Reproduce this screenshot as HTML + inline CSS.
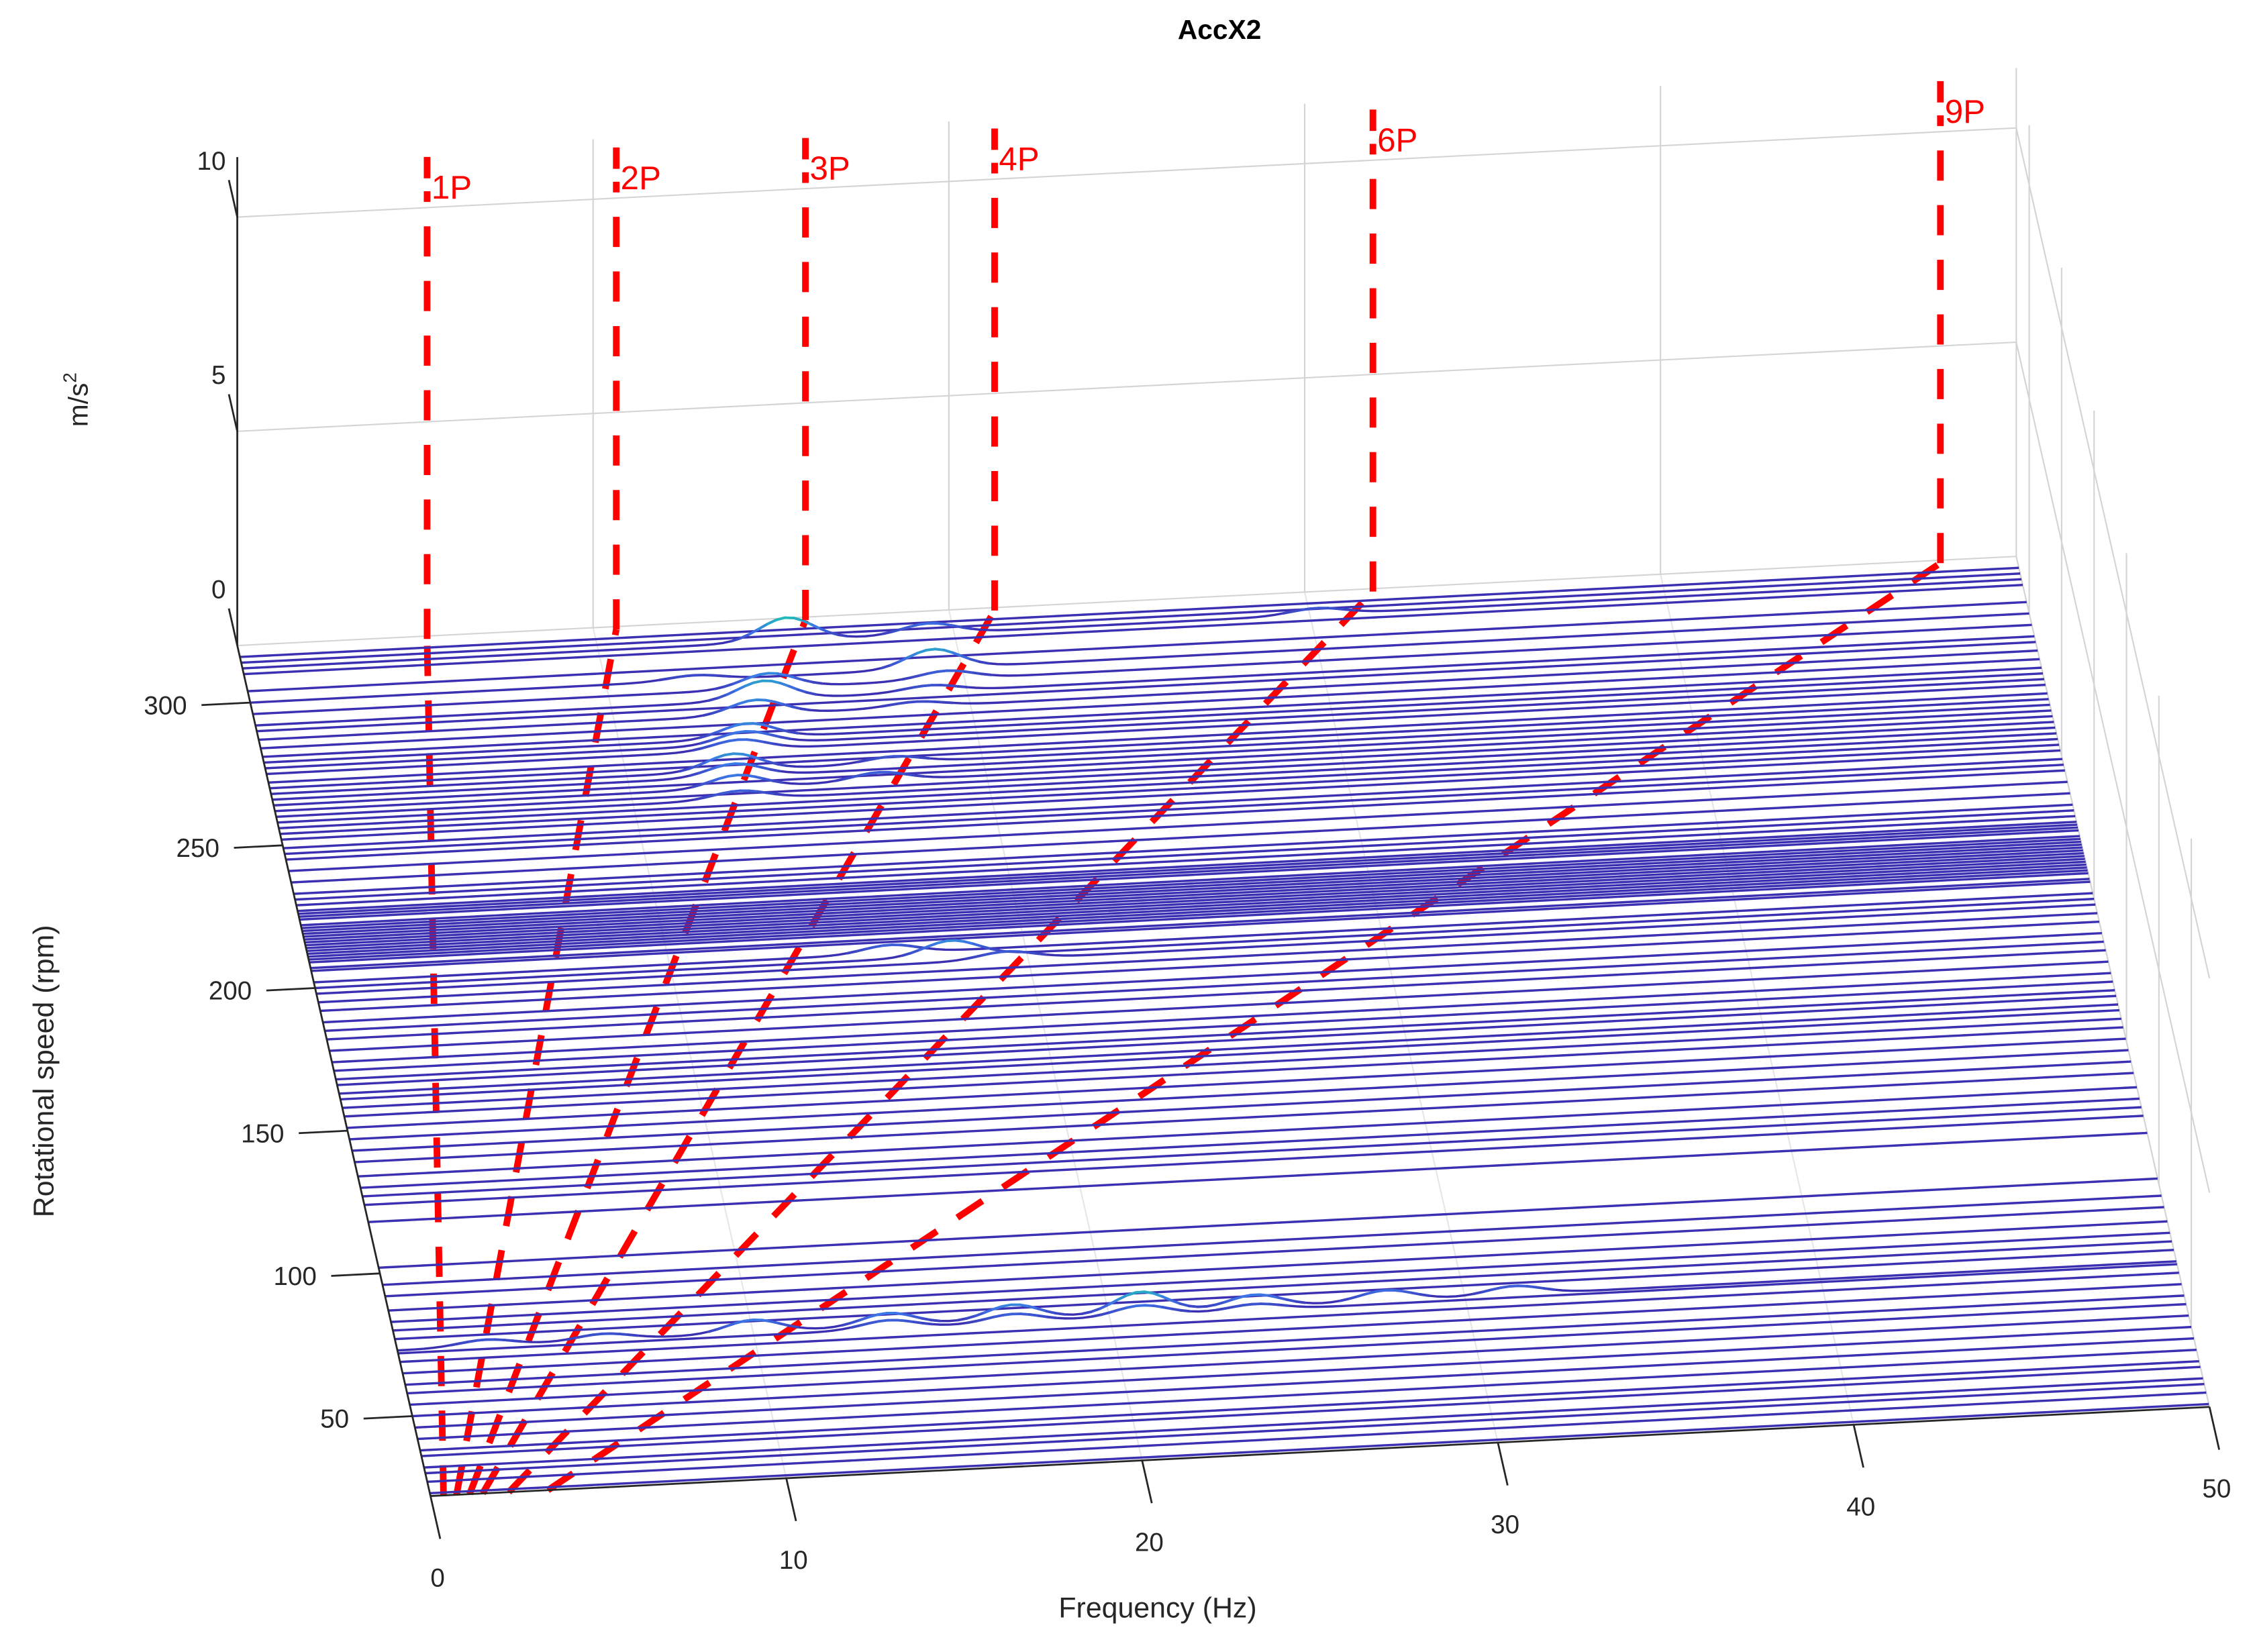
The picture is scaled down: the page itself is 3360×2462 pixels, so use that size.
<!DOCTYPE html>
<html><head><meta charset="utf-8"><title>AccX2</title>
<style>
html,body{margin:0;padding:0;background:#fff;}
svg{display:block;font-family:"Liberation Sans",Arial,sans-serif;}
</style></head>
<body>
<svg id="chart" xmlns="http://www.w3.org/2000/svg" width="3360" height="2462" viewBox="0 0 1568 1149" preserveAspectRatio="none">
<rect x="0" y="0" width="1568" height="1149" fill="#fff"/>
<g id="grid"></g>
<g id="redFloor"></g>
<g id="rows"></g>
<g id="redVert"></g>
<g id="axes"></g>
<text x="848" y="27" text-anchor="middle" font-size="19" font-weight="bold" fill="#000">AccX2</text>
<text x="805" y="1125" text-anchor="middle" font-size="20" fill="#262626">Frequency (Hz)</text>
<text transform="translate(37,745) rotate(-90)" text-anchor="middle" font-size="20" fill="#262626">Rotational speed (rpm)</text>
<text transform="translate(61,278) rotate(-90)" text-anchor="middle" font-size="19" fill="#262626">m/s<tspan dy="-8" font-size="13">2</tspan></text>
</svg>
<script>
const rowRpm = [316,314,312,310,304,300,296,292,290,287,284,281,279,277,275,272,270,268,266,264,262,260,258,256,254,252,249,247,245,241,237,233,231,229,227,226,225,224,222,221,220,219,218,217,216,215,214,213,212,211,210,209,207,206,202,200,198,195,192,188,185,182,178,174,171,168,166,163,161,158,155,151,147,143,139,134,130,127,124,118,102,96,92,87,83,80,77,73,72,69,65,61,58,54,50,46,42,38,36,32,30,27,23];
const peakRpm  = [312,312,312,300,300,296,296,292,292,287,287,279,277,275,268,268,266,262,262,258,202,200,198,200,73,73,73,73,73,73,73,73,73,72,72,72,72];
const peakFreq = [15.3,19.3,30.2,12.5,19.2,14.5,19.5,14.3,19.0,14.0,18.5,13.6,13.5,13.3,13.0,17.5,13.0,13.0,17.0,13.0,16.2,17.8,19.4,18.0,2.5,5.8,10.0,13.8,17.3,20.9,24.1,27.8,31.4,13.8,17.3,20.9,24.1];
const peakAmp  = [0.55,0.25,0.15,0.12,0.45,0.35,0.2,0.45,0.15,0.35,0.12,0.35,0.3,0.25,0.4,0.15,0.3,0.3,0.2,0.2,0.2,0.22,0.18,0.15,0.15,0.15,0.3,0.3,0.35,0.5,0.3,0.25,0.2,0.2,0.2,0.25,0.15];
const orders = [1,2,3,4,6,9];
const freqTicks = [0,10,20,30,40,50];
const rpmTicks = [50,100,150,200,250,300];
const zTicks = [0,5,10];
const R0 = 22, RB = 320, FMAX = 50, ZMAX = 11.4, ZRED = 11.25;

function P(f,r,z){return [165 + f*24.74 + (RB-r)*0.4508, 449 - f*1.24 + (RB-r)*1.985 - z*29.8];}
const NS="http://www.w3.org/2000/svg";
function mk(tag,attrs,parent){const e=document.createElementNS(NS,tag);for(const k in attrs)e.setAttribute(k,attrs[k]);parent.appendChild(e);return e;}
function pts(a){return a.map(p=>p[0].toFixed(2)+","+p[1].toFixed(2)).join(" ");}
const grid=document.getElementById('grid'),rows=document.getElementById('rows'),axes=document.getElementById('axes');
const redFloor=document.getElementById('redFloor'),redVert=document.getElementById('redVert');
const GC="#d4d4d4";

freqTicks.forEach(f=>{ if(f===0)return;
  const a=P(f,RB,0),b=P(f,RB,ZMAX);
  const l=mk('line',{x1:a[0],y1:a[1],x2:b[0],y2:b[1],stroke:GC,'stroke-width':1},grid);
  
  
  const c=P(f,R0,0);
  const l2=mk('line',{x1:a[0],y1:a[1],x2:c[0],y2:c[1],stroke:"#e6e6e6",'stroke-width':1},grid);
  
  
});
zTicks.forEach(z=>{
  const a=P(0,RB,z),b=P(FMAX,RB,z),c=P(FMAX,R0,z);
  const l=mk('polyline',{points:pts([a,b,c]),fill:'none',stroke:GC,'stroke-width':1},grid);
  
  
});
rpmTicks.forEach(r=>{
  const a=P(FMAX,r,0),b=P(FMAX,r,ZMAX);
  const l=mk('line',{x1:a[0],y1:a[1],x2:b[0],y2:b[1],stroke:GC,'stroke-width':1},grid);
  
  
});

orders.forEach(k=>{
  const a=P(k*R0/60,R0,0),b=P(k*(RB-1)/60,RB-1,0);
  const l=mk('line',{x1:a[0],y1:a[1],x2:b[0],y2:b[1],stroke:'#ff0000','stroke-width':4.6,'stroke-dasharray':'21 17'},redFloor);
  
  
});

function baseCol(t){
  const c0=[60,48,178],c1=[60,115,232],c2=[30,190,185];
  let a,b,u; if(t<0.5){a=c0;b=c1;u=t/0.5;}else{a=c1;b=c2;u=(t-0.5)/0.5;}
  return 'rgb('+a.map((v,i)=>Math.round(v+(b[i]-v)*u)).join(',')+')';
}
rowRpm.forEach(r=>{
  const pk=[];peakRpm.forEach((pr,i)=>{if(pr===r)pk.push(i);});
  const line=[],amps=[];
  for(let f=0;f<=FMAX+1e-6;f+=0.25){
    let z=0;pk.forEach(i=>{const d=f-peakFreq[i];z+=peakAmp[i]*Math.exp(-d*d/(2*0.75*0.75));});
    line.push(P(f,r,z));amps.push(z);
  }
  const g=mk('g',{},rows);
  
  
  mk('polyline',{points:pts(line),fill:'none',stroke:'rgb(60,48,178)','stroke-width':1.6,'stroke-linejoin':'round'},g);
  for(let i=0;i<line.length-1;i++){
    const z=(amps[i]+amps[i+1])/2;
    if(z>0.06){
      mk('line',{x1:line[i][0],y1:line[i][1],x2:line[i+1][0],y2:line[i+1][1],stroke:baseCol(Math.min(z/0.55,1)),'stroke-width':1.8,'stroke-linecap':'round'},g);
    }
  }
});

orders.forEach(k=>{
  const f=k*(RB-1)/60;
  const a=P(f,RB-1,0),b=P(f,RB-1,ZRED-0.8),top=P(f,RB-1,ZRED),bar=P(f,RB-1,ZRED-0.5);
  const l=mk('line',{x1:a[0],y1:a[1],x2:b[0],y2:b[1],stroke:'#ff0000','stroke-width':4.6,'stroke-dasharray':'21 17'},redVert);
  
  
  const t=mk('line',{x1:top[0],y1:top[1],x2:bar[0],y2:bar[1],stroke:'#ff0000','stroke-width':4.6},redVert);
  
  
  const tx=mk('text',{x:top[0]+3,y:top[1]+29,'font-size':23,fill:'#ff0000'},redVert);
  tx.textContent=k+'P';
  
  
});

function axLine(a,b,name){const l=mk('line',{x1:a[0],y1:a[1],x2:b[0],y2:b[1],stroke:'#262626','stroke-width':1.3},axes);
  
  }
axLine(P(0,R0,0),P(FMAX,R0,0),'x-axis-line');
axLine(P(0,R0,0),P(0,RB,0),'y-axis-line');
axLine(P(0,RB,0),P(0,RB,ZMAX),'z-axis-line');
freqTicks.forEach(f=>{
  const a=P(f,R0,0),b=P(f,R0-15,0);
  axLine(a,b,'x-tick-'+f);
  const t=mk('text',{x:a[0]+5,y:a[1]+63,'text-anchor':'middle','font-size':18,fill:'#262626'},axes);
  t.textContent=f;
  
  
});
rpmTicks.forEach(r=>{
  const a=P(0,r,0),b=P(-1.37,r,0);
  axLine(a,b,'y-tick-'+r);
  const t=mk('text',{x:a[0]-44,y:a[1]+8,'text-anchor':'end','font-size':18,fill:'#262626'},axes);
  t.textContent=r;
  
  
});
zTicks.forEach(z=>{
  const a=P(0,RB,z),b=P(0,RB+13,z);
  axLine(a,b,'z-tick-'+z);
  const t=mk('text',{x:157,y:a[1]-33,'text-anchor':'end','font-size':18,fill:'#262626'},axes);
  t.textContent=z;
  
  
});
</script>
</body></html>
